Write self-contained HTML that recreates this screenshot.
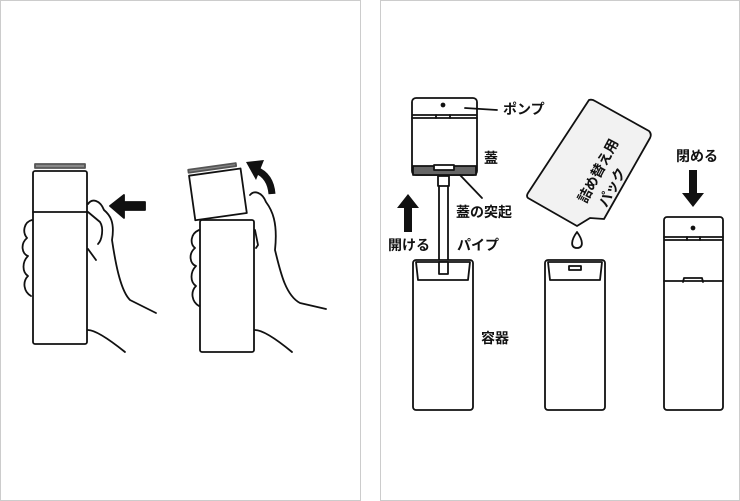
<!DOCTYPE html>
<html><head><meta charset="utf-8"><style>
body{margin:0;background:#fff}
svg{display:block}
text{font-family:"Liberation Sans","Noto Sans CJK JP",sans-serif;font-weight:bold;font-size:14px;fill:#111}
</style></head><body>
<svg width="740" height="501" viewBox="0 0 740 501" xmlns="http://www.w3.org/2000/svg">
<rect x="0.5" y="0.5" width="360" height="500" fill="#fff" stroke="#ccc"/>
<rect x="380.5" y="0.5" width="359" height="500" fill="#fff" stroke="#ccc"/>
<g fill="none" stroke="#111" stroke-width="1.8" stroke-linejoin="round" stroke-linecap="round">
<rect x="35" y="164" width="50" height="4" fill="#888" stroke="#555"/>
<rect x="33" y="171" width="54" height="173" rx="2" fill="#fff"/>
<line x1="33" y1="212" x2="87" y2="212"/>
<path d="M32 220 C24 222 22 232 27 238 C20 244 22 254 28 256 C22 262 22 272 28 276 C22 282 24 292 31 296"/>
<path d="M88 204 C92 198 100 200 104 210 C110 215 115 222 112 240 C115 260 120 290 130 300 L156 313"/>
<path d="M88 212 L100 222 C104 228 102 240 98 244"/>
<path d="M88 249 L96 260"/>
<path d="M88 330 C95 330 110 340 125 352"/>
<polygon points="110,206 124,195 124,202 145,202 145,210 124,210 124,218" fill="#111"/>
<g transform="rotate(-8 217 195)">
<rect x="192" y="166" width="48" height="3" fill="#888" stroke="#555"/>
<rect x="192" y="172" width="52" height="45" fill="#fff"/>
</g>
<rect x="200" y="220" width="54" height="132" rx="2" fill="#fff"/>
<path d="M199 230 C190 234 190 244 195 248 C188 254 190 264 196 266 C190 272 190 282 196 286 C190 292 192 302 199 306"/>
<path d="M250 195 C254 190 262 192 266 202 C272 210 278 222 275 250 C280 270 285 295 300 303 L326 309"/>
<path d="M255 230 L258 245 L256 248"/>
<path d="M255 330 C262 330 275 338 292 352"/>
</g>
<path d="M272 194 C271 182 266 174 256 170" fill="none" stroke="#111" stroke-width="7"/>
<polygon points="246,162 264,160 256,180" fill="#111"/>
<g fill="none" stroke="#111" stroke-width="1.8" stroke-linejoin="round" stroke-linecap="round">
<rect x="412" y="98" width="65" height="77" rx="4" fill="#fff"/>
<line x1="412" y1="118" x2="477" y2="118"/>
<line x1="413" y1="115" x2="476" y2="115"/>
<line x1="436" y1="115" x2="436" y2="118"/><line x1="450" y1="115" x2="450" y2="118"/>
<circle cx="443" cy="105" r="1.5" fill="#111"/>
<rect x="413" y="166" width="63" height="9" fill="#666"/>
<rect x="434" y="165" width="20" height="5" fill="#fff"/>
<rect x="438" y="176" width="11" height="10" fill="#fff"/>
<line x1="439" y1="186" x2="439" y2="270"/><line x1="448" y1="186" x2="448" y2="270"/>
<path d="M438 268 L449 268 L447 274 L449 276 L444 278 L440 277 L438 274 Z" fill="#fff"/>
<line x1="465" y1="108" x2="497" y2="110"/>
<line x1="460" y1="175" x2="482" y2="198"/>
<rect x="413" y="260" width="60" height="150" rx="3" fill="#fff"/>
<path d="M416 262 L470 262 L468 280 L418 280 Z"/>
<rect x="439" y="262" width="9" height="12" fill="#fff"/>
<rect x="545" y="260" width="60" height="150" rx="3" fill="#fff"/>
<path d="M548 262 L602 262 L600 280 L550 280 Z"/>
<rect x="569" y="266" width="12" height="4"/>
<rect x="664" y="217" width="59" height="193" rx="3" fill="#fff"/>
<line x1="664" y1="237" x2="723" y2="237"/><line x1="665" y1="240" x2="722" y2="240"/>
<line x1="687" y1="237" x2="687" y2="240"/><line x1="700" y1="237" x2="700" y2="240"/>
<circle cx="693" cy="228" r="1.5" fill="#111"/>
<line x1="664" y1="281" x2="723" y2="281"/>
<path d="M683 282 L684 278 L702 278 L703 282"/>
<path d="M595 101 L649 131 Q652 134 650 138 L604 219 L590 218 L577 226 L528 198 Q526 196 528 193 L589 100 Q592 99 595 101 Z" fill="#f2f2f2"/>
<path d="M577 232 C571 240 570 248 577 248 C584 248 583 240 577 232 Z"/>
</g>
<polygon points="408,194 397,208 404,208 404,232 412,232 412,208 419,208" fill="#111"/>
<polygon points="693,207 682,193 689,193 689,170 697,170 697,193 704,193" fill="#111"/>
<text x="503" y="114">ポンプ</text>
<text x="484" y="163">蓋</text>
<text x="456" y="217">蓋の突起</text>
<text x="388" y="250">開ける</text>
<text x="457" y="250">パイプ</text>
<text x="481" y="343">容器</text>
<text x="676" y="161">閉める</text>
<g transform="translate(586 204) rotate(-62)" style="font-size:16px"><text x="0" y="0">詰め替え用</text><text x="6" y="20">パック</text></g>
</svg>
</body></html>
